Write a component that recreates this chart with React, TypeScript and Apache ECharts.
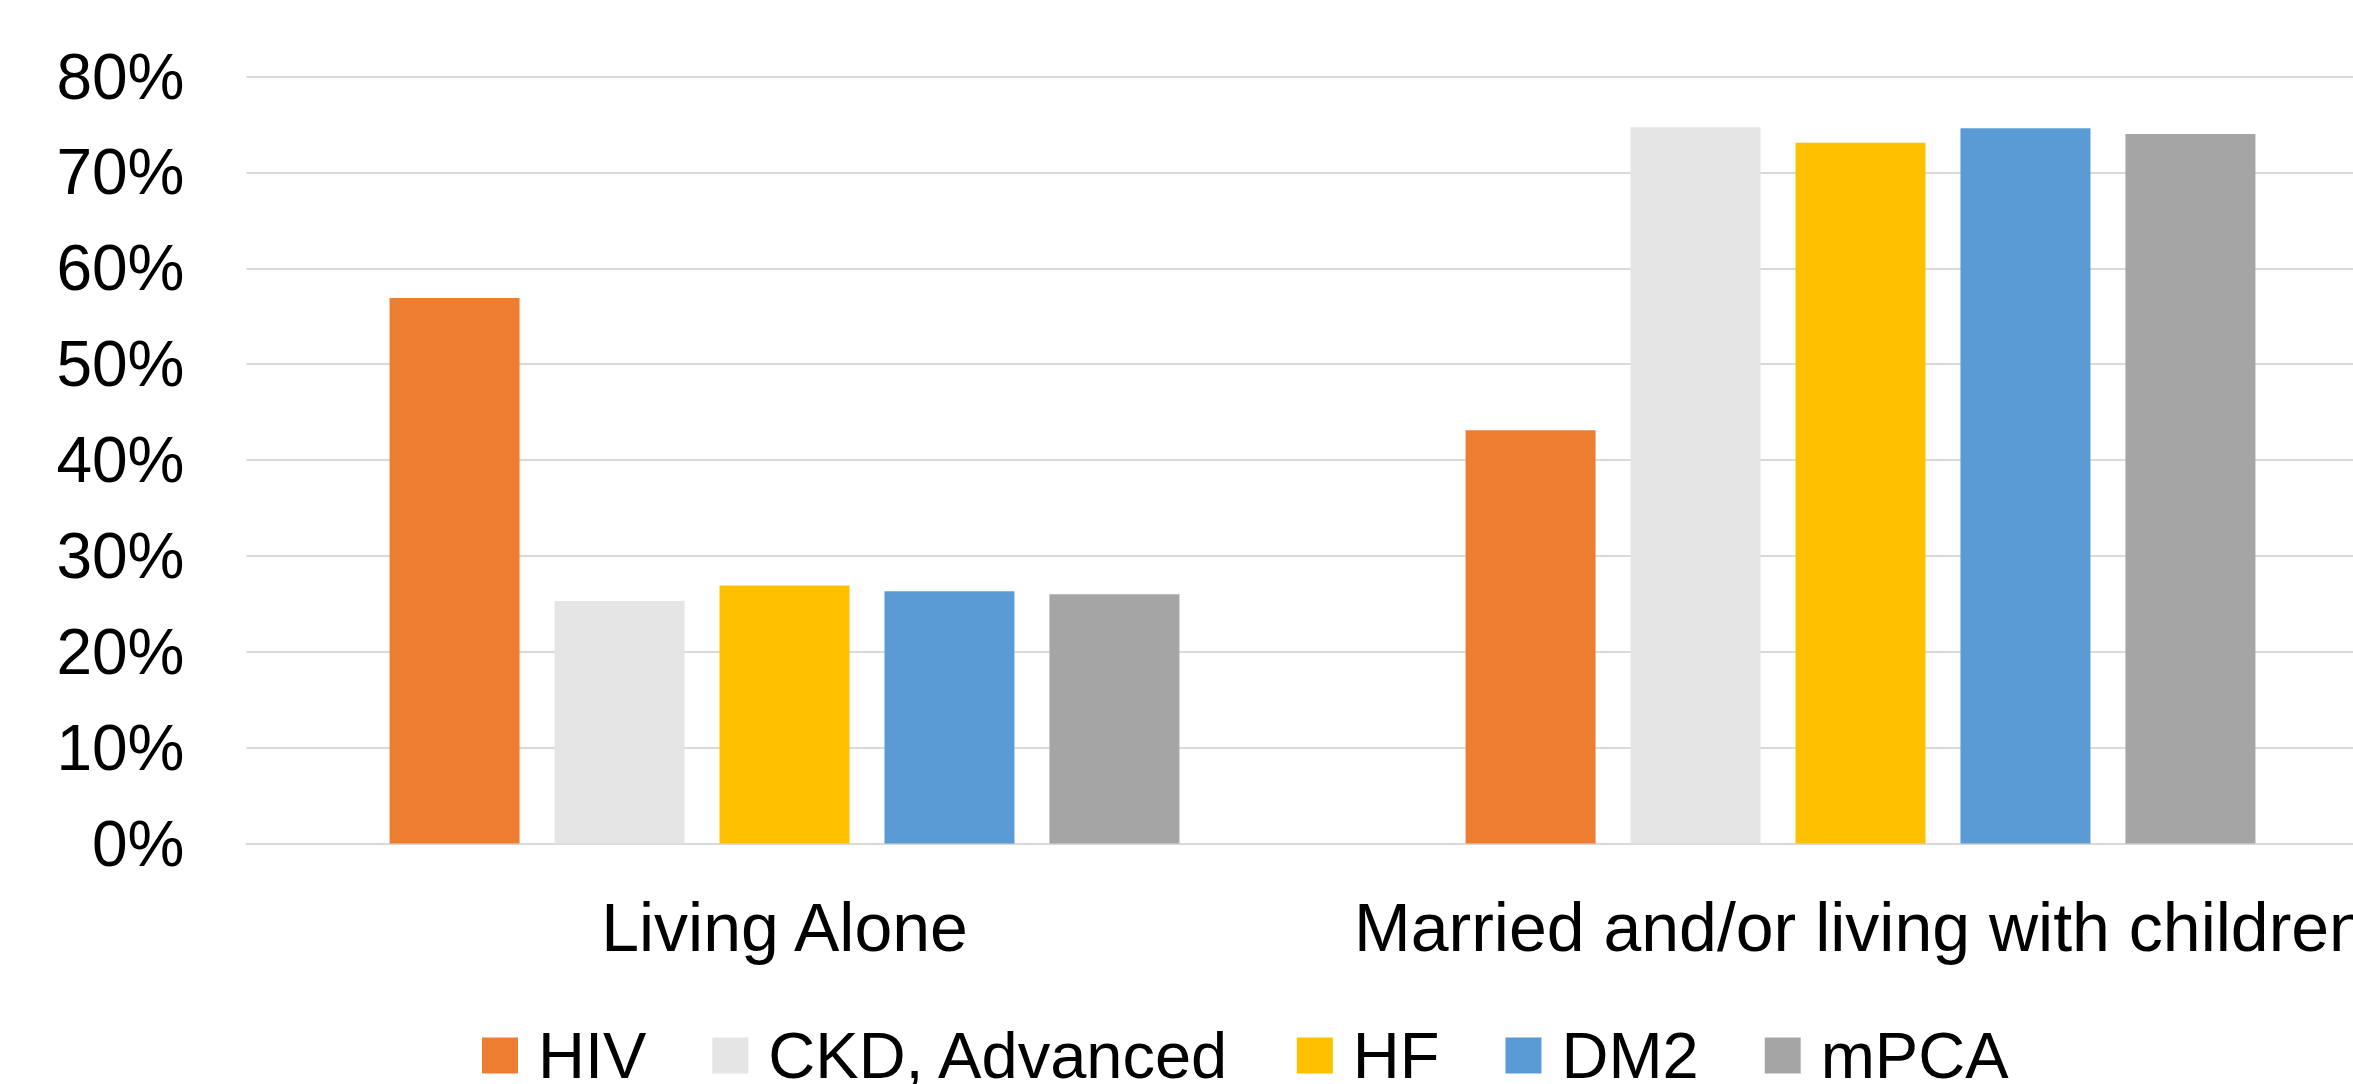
import React, { useEffect, useRef } from "react";
import * as echarts from "echarts";

const categories = ["Living Alone", "Married and/or living with children"];
const seriesNames = ["HIV", "CKD, Advanced", "HF", "DM2", "mPCA"];
const hivValues = [56.9, 43.1];
const ckdValues = [25.3, 74.7];
const hfValues = [26.9, 73.1];
const dm2Values = [26.3, 74.6];
const mpcaValues = [26.0, 74.0];
const colors = ["#ED7D31", "#E5E5E5", "#FFC000", "#5B9BD5", "#A5A5A5"];
const yTicks = [0, 10, 20, 30, 40, 50, 60, 70, 80];

const FONT = "'Liberation Sans', Arial, sans-serif";

export default function App() {
  const ref = useRef<HTMLDivElement>(null);
  useEffect(() => {
    if (!ref.current) return;
    const chart = echarts.init(ref.current, null, { renderer: "svg" });
    const all = [hivValues, ckdValues, hfValues, dm2Values, mpcaValues];
    chart.setOption({
      animation: false,
      backgroundColor: "#ffffff",
      textStyle: { fontFamily: FONT },
      grid: { left: 246.5, right: 21.5, top: 76.5, bottom: 1084 - 843.5, containLabel: false },
      legend: {
        left: 477,
        top: 1018,
        itemWidth: 36,
        itemHeight: 36,
        itemGap: 66,
        icon: "rect",
        data: seriesNames,
        textStyle: { fontSize: 65, color: "#000", fontFamily: FONT, padding: [0, 0, 0, 15] },
      },
      xAxis: {
        type: "category",
        data: categories,
        axisLine: { show: true, lineStyle: { color: "#D9D9D9", width: 2 } },
        axisTick: { show: false },
        axisLabel: { fontSize: 68, color: "#000", margin: 49, fontFamily: FONT, interval: 0 },
      },
      yAxis: {
        type: "value",
        min: 0,
        max: 80,
        interval: 10,
        axisLine: { show: false },
        axisTick: { show: false },
        splitLine: { lineStyle: { color: "#D9D9D9", width: 2 } },
        axisLabel: {
          fontSize: 64,
          color: "#000",
          margin: 62,
          fontFamily: FONT,
          formatter: (v: number) => (yTicks.includes(v) ? v + "%" : ""),
        },
      },
      series: seriesNames.map((name, i) => ({
        name,
        type: "bar",
        data: all[i],
        barWidth: 130,
        barGap: "26.9%",
        itemStyle: { color: colors[i] },
      })),
    });
    return () => chart.dispose();
  }, []);
  return (
    <div style={{ position: "fixed", left: 0, top: 0, width: 2353, height: 1084, overflow: "hidden", background: "#fff" }}>
      <div ref={ref} style={{ width: 2420, height: 1084 }} />
    </div>
  );
}
